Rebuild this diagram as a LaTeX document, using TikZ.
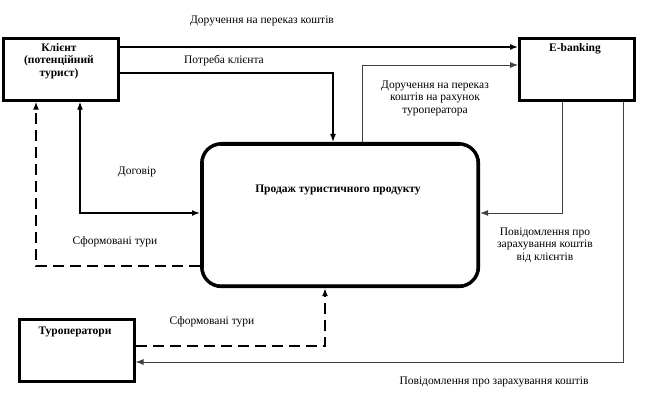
\documentclass[tikz,border=0pt]{standalone}
\usepackage{fontspec}
\setmainfont{Liberation Serif}
\usetikzlibrary{arrows.meta}
\tikzset{
  txt/.style={font=\fontsize{11.5}{12.5}\selectfont, align=center, inner sep=0pt},
  hdr/.style={txt, font=\fontsize{11.5}{12.5}\selectfont\bfseries},
  entity/.style={draw, line width=2.6pt, anchor=north west, minimum width=115pt, minimum height=62pt},
  flow/.style={line width=1.5pt, -{Latex[length=8pt,width=6pt]}},
  thinflow/.style={line width=0.8pt, black!75, -{Latex[length=8pt,width=6pt]}},
  dflow/.style={flow, line width=2pt, dash pattern=on 11pt off 6pt},
}
\begin{document}
\begin{tikzpicture}[x=1pt,y=-1pt]
  \useasboundingbox (0,0) rectangle (657,417);
  \node[entity] (client) at (2,37) {};
  \node[entity] (ebank) at (518,37) {};
  \node[entity] (tour) at (18,318) {};
  \node[draw, line width=3.2pt, rounded corners=20pt, anchor=north west,
        minimum width=277pt, minimum height=143pt] (main) at (200,142) {};
  \draw[line width=0.6pt, rounded corners=17pt]
    ([shift={(3.5pt,-3.5pt)}]main.north west) rectangle ([shift={(-3.5pt,3.5pt)}]main.south east);
  % entity titles
  \node[hdr] (clienttxt) at (59,61) {Клієнт\\(потенційний\\турист)};
  \node[hdr] (ebanktxt) at (575,49) {E-banking};
  \node[hdr] (tourtxt) at (75,332) {Туроператори};
  \node[hdr] (maintxt) at (338,190) {Продаж туристичного продукту};
  % flows
  \draw[flow] (client.east |- 0,47) -- (ebank.west |- 0,47);
  \draw[flow] (client.east |- 0,73) -| (main.north -| 333,0);
  \draw[thinflow] (main.north -| 362,0) |- (ebank.west |- 0,65);
  \draw[flow, {Latex[length=8pt,width=6pt]}-{Latex[length=8pt,width=6pt]}]
    (client.south -| 80,0) |- (main.west |- 0,213);
  \draw[dflow] (main.west |- 0,266) -| (client.south -| 36,0);
  \draw[thinflow] (ebank.south -| 562,0) |- (main.east |- 0,213);
  \draw[thinflow] (ebank.south -| 623,0) |- (tour.east |- 0,362);
  \draw[dflow] (tour.east |- 0,346) -| (main.south -| 325,0);
  % flow labels
  \node[txt] (l1) at (262,21) {Доручення на переказ коштів};
  \node[txt] (l2) at (224,61) {Потреба клієнта};
  \node[txt] (l3) at (435,98) {Доручення на переказ\\коштів на рахунок\\туроператора};
  \node[txt] (l4) at (137,172) {Договір};
  \node[txt] (l5) at (115,242) {Сформовані тури};
  \node[txt] (l6) at (545,245) {Повідомлення про\\зарахування коштів\\від клієнтів};
  \node[txt] (l7) at (212,322) {Сформовані тури};
  \node[txt] (l8) at (494,382) {Повідомлення про зарахування коштів};
\end{tikzpicture}
\end{document}
